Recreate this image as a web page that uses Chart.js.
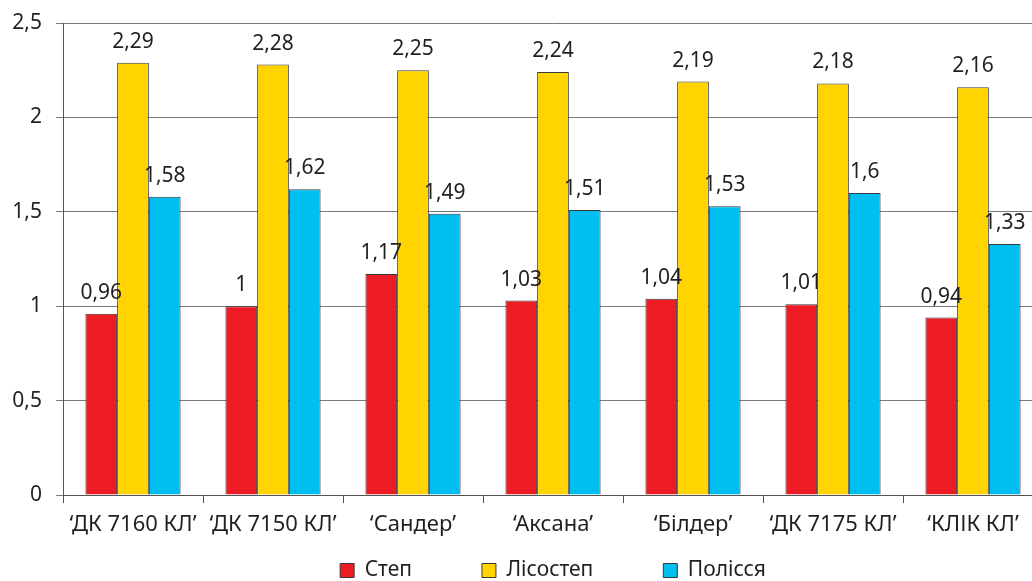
<!DOCTYPE html>
<html>
<head>
<meta charset="utf-8">
<script src="https://cdn.jsdelivr.net/npm/chart.js@4/dist/chart.umd.min.js"></script>
<style>
  html, body { margin: 0; padding: 0; background: #fff; overflow: hidden; }
  #wrap { width: 1106px; height: 581px; position: relative; }
</style>
</head>
<body>
<div id="wrap"><canvas id="barChart"></canvas></div>
<script>
// сорти
const categories = ['‘ДК 7160 КЛ’', '‘ДК 7150 КЛ’', '‘Сандер’', '‘Аксана’', '‘Білдер’', '‘ДК 7175 КЛ’', '‘КЛІК КЛ’'];
// зони
const stepValues = [0.96, 1, 1.17, 1.03, 1.04, 1.01, 0.94];
const lisostepValues = [2.29, 2.28, 2.25, 2.24, 2.19, 2.18, 2.16];
const polissyaValues = [1.58, 1.62, 1.49, 1.51, 1.53, 1.6, 1.33];
const yTicks = [0, 0.5, 1, 1.5, 2, 2.5];

const FONT = "'Noto Sans', sans-serif";
const TEXT = '#231f20';
const LEGEND_PAD = 70;
const fmt = v => String(v).replace('.', ',');

// підписи значень над стовпчиками
const valueLabels = {
  id: 'valueLabels',
  afterDatasetsDraw(chart) {
    const c = chart.ctx;
    c.save();
    c.font = '21px ' + FONT;
    c.fillStyle = TEXT;
    c.textAlign = 'center';
    c.textBaseline = 'alphabetic';
    chart.data.datasets.forEach((ds, i) => {
      chart.getDatasetMeta(i).data.forEach((bar, j) => {
        c.fillText(fmt(ds.data[j]), bar.x, bar.y - 15);
      });
    });
    c.restore();
  }
};

// легенда: широкі проміжки між пунктами, але низька смуга
const legendFit = {
  id: 'legendFit',
  afterInit(chart) {
    const lg = chart.legend;
    const fit = lg.fit;
    lg.fit = function () { fit.call(this); this.height = 36; };
  },
  afterLayout(chart) {
    const lg = chart.legend;
    // тільки верх: низ лишається, щоб кліп легенди не обрізав пункти
    lg.top -= LEGEND_PAD - 15;
    // центр по всій ширині рисунка, а не по області без правого відступу
    lg.right = chart.width;
  }
};

const mkSet = (label, data, color) => ({
  label, data,
  backgroundColor: color,
  borderColor: '#3a3a3a',
  borderWidth: 1,
  borderSkipped: 'bottom',
  categoryPercentage: 0.68,
  barPercentage: 1
});

new Chart(document.getElementById('barChart'), {
  type: 'bar',
  data: {
    labels: categories,
    datasets: [
      mkSet('Степ', stepValues, '#ed1c24'),
      mkSet('Лісостеп', lisostepValues, '#ffd400'),
      mkSet('Полісся', polissyaValues, '#00bff0')
    ]
  },
  options: {
    responsive: true,
    maintainAspectRatio: false,
    animation: false,
    layout: { padding: { top: 23, right: 63, left: 0, bottom: 0 } },
    plugins: {
      tooltip: { enabled: false },
      legend: {
        position: 'bottom',
        labels: {
          color: TEXT,
          font: { family: FONT, size: 21 },
          boxWidth: 14,
          boxHeight: 14,
          padding: LEGEND_PAD,
          generateLabels(chart) {
            return chart.data.datasets.map((ds, i) => ({
              text: ds.label,
              fillStyle: ds.backgroundColor,
              strokeStyle: '#3a3a3a',
              lineWidth: 1,
              datasetIndex: i,
              fontColor: TEXT
            }));
          }
        }
      }
    },
    scales: {
      x: {
        offset: true,
        grid: { offset: true, drawOnChartArea: false, color: '#555', tickLength: 8 },
        border: { color: '#555' },
        ticks: { color: TEXT, font: { family: FONT, size: 22 }, padding: 9, maxRotation: 0, autoSkip: false },
        afterFit(scale) { scale.height = 50; }
      },
      y: {
        min: 0,
        max: 2.5,
        afterBuildTicks(scale) { scale.ticks = yTicks.map(v => ({ value: v })); },
        grid: { color: '#7a7a7a', tickLength: 7 },
        border: { color: '#555' },
        ticks: { color: TEXT, font: { family: FONT, size: 21 }, padding: 14, callback: v => fmt(v) },
        afterFit(scale) {
          scale.width = 63;
          scale.paddingTop = 0;
          scale.paddingBottom = 0;
        }
      }
    }
  },
  plugins: [valueLabels, legendFit]
});
</script>
</body>
</html>
